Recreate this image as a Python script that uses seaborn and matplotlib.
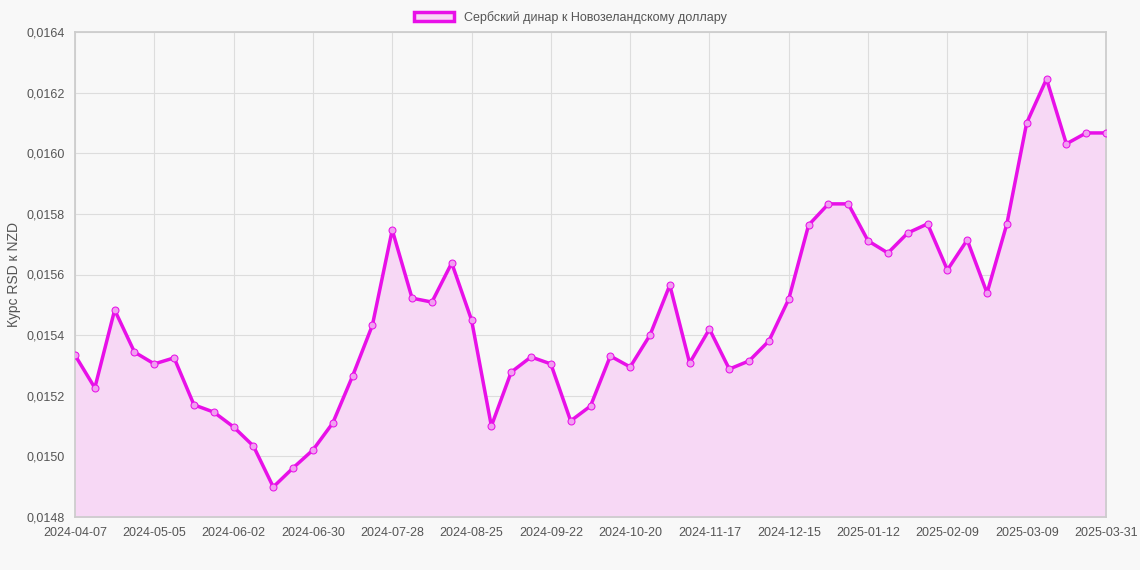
import matplotlib
matplotlib.use("Agg")
import matplotlib.pyplot as plt
import seaborn as sns
import pandas as pd
import numpy as np
from matplotlib.patches import Patch

dates = list(pd.date_range("2024-04-07", periods=52, freq="7D").strftime("%Y-%m-%d")) + ["2025-03-31"]
values = [0.015334, 0.015226, 0.015483, 0.015344, 0.015305, 0.015325, 0.015170, 0.015146,
          0.015097, 0.015034, 0.014899, 0.014962, 0.015021, 0.015110, 0.015265, 0.015433,
          0.015747, 0.015522, 0.015509, 0.015638, 0.015450, 0.015100, 0.015278, 0.015328,
          0.015305, 0.015117, 0.015166, 0.015331, 0.015295, 0.015400, 0.015565, 0.015308,
          0.015420, 0.015288, 0.015315, 0.015381, 0.015519, 0.015763, 0.015833, 0.015833,
          0.015711, 0.015671, 0.015737, 0.015767, 0.015615, 0.015714, 0.015539, 0.015767,
          0.016100, 0.016245, 0.016031, 0.016067, 0.016067]
yticks = [0.0148, 0.0150, 0.0152, 0.0154, 0.0156, 0.0158, 0.0160, 0.0162, 0.0164]
label = "Сербский динар к Новозеландскому доллару"
color = "#e810e8"

sns.set_theme(style="whitegrid")
plt.rcParams['font.family'] = ['Liberation Sans', 'DejaVu Sans']
df = pd.DataFrame({"i": np.arange(len(values)), "v": values})

fig = plt.figure(figsize=(11.4, 5.7), dpi=100, facecolor="#f8f8f8")
ax = fig.add_axes([75/1140, 53/570, 1031/1140, 485/570])
ax.set_facecolor("#f8f8f8")
sns.lineplot(data=df, x="i", y="v", ax=ax, color=color, linewidth=2.5, marker="o",
             markersize=5, markerfacecolor="#f0a0f0", markeredgecolor=color, zorder=3)
ax.fill_between(df["i"], df["v"], 0.0148, color="#f7d8f5", zorder=1)
ax.set_xlim(0, len(values) - 1)
ax.set_ylim(0.0148, 0.0164)
tick_idx = list(range(0, 49, 4)) + [52]
ax.set_xticks(tick_idx)
ax.set_xticklabels([dates[i] for i in tick_idx], fontsize=9, color="#555555")
ax.set_yticks(yticks)
ax.set_yticklabels([f"{t:.4f}".replace(".", ",") for t in yticks], fontsize=9, color="#555555")
ax.set_xlabel("")
ax.set_ylabel("Курс RSD к NZD", fontsize=10, color="#555555")
ax.grid(True, color="#dddddd", linewidth=0.8)
for s in ax.spines.values():
    s.set_color("#cccccc")
ax.tick_params(length=4, color="#cccccc")
fig.legend(handles=[Patch(facecolor="#f7d8f5", edgecolor=color, linewidth=2.5, label=label)],
           loc="upper center", bbox_to_anchor=(0.5, 1.0), frameon=False, fontsize=9,
           handlelength=3.2, labelcolor="#555555")
fig.savefig("out.png", dpi=100, facecolor=fig.get_facecolor())
